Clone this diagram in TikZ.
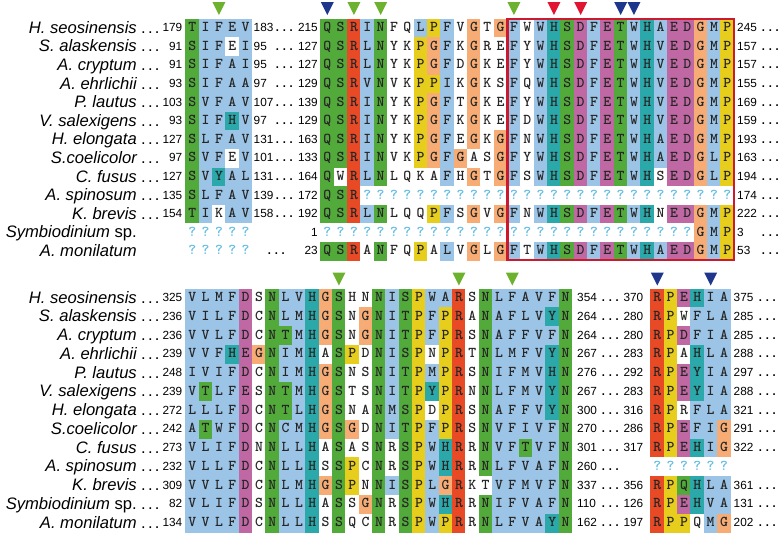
\documentclass[tikz,border=0pt]{standalone}
\usepackage{fontspec}
\setmainfont{Liberation Sans}
\definecolor{colb}{RGB}{155,196,230}
\definecolor{colg}{RGB}{82,170,58}
\definecolor{colr}{RGB}{233,74,38}
\definecolor{colm}{RGB}{192,104,163}
\definecolor{colc}{RGB}{42,168,170}
\definecolor{colo}{RGB}{246,172,116}
\definecolor{coly}{RGB}{232,206,28}
\definecolor{colw}{RGB}{255,255,255}
\definecolor{colq}{RGB}{255,255,255}
\colorlet{txtb}{black!85}
\colorlet{txtg}{black!85}
\colorlet{txtr}{black!85}
\colorlet{txtm}{black!85}
\colorlet{txtc}{black!85}
\colorlet{txto}{black!85}
\colorlet{txty}{black!85}
\colorlet{txtw}{black!85}
\definecolor{txtq}{RGB}{100,190,225}
\definecolor{boxred}{RGB}{205,25,45}
\definecolor{trig}{RGB}{108,178,46}
\definecolor{trib}{RGB}{30,55,140}
\definecolor{trir}{RGB}{225,20,50}
\newcommand\dd{.\kern2.2pt.\kern2.2pt.}
\newcommand\cells[4]{%
  \foreach \aa/\cc [count=\ii from 0] in {#4}{%
    \node[res=\cc] (#1-\ii) at ({#2+13.333*\ii},{#3}) {\aa};}}
\newcommand\qcells[5]{%
  \foreach \ii in {#4,...,#5}{%
    \node[res=q] (#1-\ii) at ({#2+13.333*\ii},{#3}) {?};}}
\newcommand\tri[3]{\fill[#1] ({#2-6.5},#3) -- ({#2+6.5},#3) -- (#2,{#3+13}) -- cycle;}
\tikzset{
  res/.style={fill=col#1, text=txt#1, minimum width=13.7pt, minimum height=19.1pt,
    inner sep=0pt, text height=6.8pt, text depth=0pt,
    font=\ttfamily\bfseries\fontsize{15}{15}\selectfont},
  nm/.style={anchor=base east, inner sep=0pt, font=\fontsize{16.6}{18}\selectfont\itshape},
  dt/.style={anchor=base west, inner sep=0pt, font=\fontsize{16.6}{18}\selectfont},
  num/.style={inner sep=0pt, font=\fontsize{11.8}{13}\selectfont},
  numr/.style={num, anchor=base east},
  numl/.style={num, anchor=base west}
}
\begin{document}
\begin{tikzpicture}[x=1pt,y=-1pt]
\useasboundingbox (0,0) rectangle (780,533);
\fill[white] (0,0) rectangle (780,533);

% ---------------- TOP BLOCK ----------------
% segment 1
\cells{ta0}{192.3}{28.3}{T/g,I/b,F/b,E/b,V/b}
\cells{ta1}{192.3}{46.9}{S/g,I/b,F/b,E/w,I/b}
\cells{ta2}{192.3}{65.5}{S/g,I/b,F/b,A/b,I/b}
\cells{ta3}{192.3}{84.1}{S/g,I/b,F/b,A/b,A/b}
\cells{ta4}{192.3}{102.7}{S/g,V/b,F/b,A/b,V/b}
\cells{ta5}{192.3}{121.3}{S/g,I/b,F/b,H/c,V/b}
\cells{ta6}{192.3}{139.9}{S/g,L/b,F/b,A/b,V/b}
\cells{ta7}{192.3}{158.5}{S/g,V/b,F/b,E/w,V/b}
\cells{ta8}{192.3}{177.1}{S/g,V/b,Y/c,A/b,L/b}
\cells{ta9}{192.3}{195.7}{S/g,L/b,F/b,A/b,V/b}
\cells{ta10}{192.3}{214.3}{T/g,I/b,K/w,A/b,V/b}
\qcells{ta11}{192.3}{232.9}{0}{4}
\qcells{ta12}{192.3}{251.5}{0}{4}
% segment 2
\cells{tb0}{327.3}{28.3}{Q/g,S/g,R/r,I/b,N/g,F/w,Q/w,L/b,P/y,F/b,V/w,G/o,T/w,G/o,F/b,W/w,W/b,H/c,S/g,D/m,F/b,E/m,T/g,W/b,H/c,A/b,E/m,D/m,G/o,M/b,P/y}
\cells{tb1}{327.3}{46.9}{Q/g,S/g,R/r,L/b,N/g,Y/w,K/w,P/y,G/o,F/b,K/w,G/o,R/w,E/w,F/b,Y/w,W/b,H/c,S/g,D/m,F/b,E/m,T/g,W/b,H/c,V/b,E/m,D/m,G/o,M/b,P/y}
\cells{tb2}{327.3}{65.5}{Q/g,S/g,R/r,L/b,N/g,Y/w,K/w,P/y,G/o,F/b,D/w,G/o,K/w,E/w,F/b,Y/w,W/b,H/c,S/g,D/m,F/b,E/m,T/g,W/b,H/c,V/b,E/m,D/m,G/o,M/b,P/y}
\cells{tb3}{327.3}{84.1}{Q/g,S/g,R/r,V/b,N/g,V/w,K/w,P/y,P/y,I/b,K/w,G/o,K/w,S/w,F/b,Q/w,W/b,H/c,S/g,D/m,F/b,E/m,T/g,W/b,H/c,V/b,E/m,D/m,G/o,M/b,P/y}
\cells{tb4}{327.3}{102.7}{Q/g,S/g,R/r,I/b,N/g,Y/w,K/w,P/y,G/o,F/b,T/w,G/o,K/w,E/w,F/b,Y/w,W/b,H/c,S/g,D/m,F/b,E/m,T/g,W/b,H/c,V/b,E/m,D/m,G/o,M/b,P/y}
\cells{tb5}{327.3}{121.3}{Q/g,S/g,R/r,I/b,N/g,Y/w,K/w,P/y,G/o,F/b,K/w,G/o,K/w,E/w,F/b,D/w,W/b,H/c,S/g,D/m,F/b,E/m,T/g,W/b,H/c,V/b,E/m,D/m,G/o,M/b,P/y}
\cells{tb6}{327.3}{139.9}{Q/g,S/g,R/r,I/b,N/g,Y/w,K/w,P/y,G/o,F/b,E/w,G/o,K/w,G/o,F/b,N/w,W/b,H/c,S/g,D/m,F/b,E/m,T/g,W/b,H/c,A/b,E/m,D/m,G/o,M/b,P/y}
\cells{tb7}{327.3}{158.5}{Q/g,S/g,R/r,I/b,N/g,V/w,K/w,P/y,G/o,F/b,G/o,A/w,S/w,G/o,F/b,Y/w,W/b,H/c,S/g,D/m,F/b,E/m,T/g,W/b,H/c,A/b,E/m,D/m,G/o,L/b,P/y}
\cells{tb8}{327.3}{177.1}{Q/g,W/w,R/r,L/b,N/g,L/w,Q/w,K/w,A/w,F/b,H/w,G/o,T/w,G/o,F/b,S/w,W/b,H/c,S/g,D/m,F/b,E/m,T/g,W/b,H/c,S/w,E/m,D/m,G/o,L/b,P/y}
\cells{tb9}{327.3}{195.7}{Q/g,S/g,R/r}
\qcells{tb9q}{327.3}{195.7}{3}{30}
\cells{tb10}{327.3}{214.3}{Q/g,S/g,R/r,L/b,N/g,L/w,Q/w,Q/w,P/y,F/b,S/w,G/o,V/w,G/o,F/b,N/w,W/b,H/c,S/g,D/m,F/b,E/m,T/g,W/b,H/c,N/w,E/m,D/m,G/o,M/b,P/y}
\qcells{tb11}{327.3}{232.9}{0}{27}
\cells{tb11e}{700.62}{232.9}{G/o,M/b,P/y}
\cells{tb12}{327.3}{251.5}{Q/g,S/g,R/r,A/w,N/g,F/w,Q/w,P/y,A/w,L/b,V/w,G/o,L/w,G/o,F/b,T/w,W/b,H/c,S/g,D/m,F/b,E/m,T/g,W/b,H/c,A/b,E/m,D/m,G/o,M/b,P/y}

\draw[line width=2.4pt, boxred] (507.3,19) rectangle (734,259.8);

% top labels
\foreach \nm/\sa/\ea/\sb/\eb [count=\r from 0] in {
  H. seosinensis/179/183/215/245,
  S. alaskensis/91/95/127/157,
  A. cryptum/91/95/127/157,
  A. ehrlichii/93/97/129/155,
  P. lautus/103/107/139/169,
  V. salexigens/93/97/129/159,
  H. elongata/127/131/163/193,
  S.coelicolor/97/101/133/163,
  C. fusus/127/131/164/194,
  A. spinosum/135/139/172/174,
  K. brevis/154/158/192/222}{
  \pgfmathsetmacro\yy{28.3+18.6*\r}
  \node[nm] (tn\r) at (137,\yy+5) {\nm};
  \node[dt] (td\r) at (141,\yy+5) {\dd};
  \node[numr] (ts\r) at (182.5,\yy+3.4) {\sa};
  \node[numl] (te\r) at (253.5,\yy+3.4) {\ea};
  \node[dt] (tm\r) at (275,\yy+3.4) {\dd};
  \node[numr] (tu\r) at (318,\yy+3.4) {\sb};
  \node[numl] (tv\r) at (737,\yy+3.4) {\eb};
  \node[dt] (tr\r) at (761,\yy+3.4) {\dd};
}
\node[nm] (tn11) at (137,237.9) {Symbiodinium {\upshape sp.}};
\node[numr] (tu11) at (318,236.3) {1};
\node[numl] (tv11) at (737,236.3) {3};
\node[dt] (tr11) at (761,236.3) {\dd};
\node[nm] (tn12) at (137,256.5) {A. monilatum};
\node[dt] (tm12) at (267,254.9) {\dd};
\node[numr] (tu12) at (318,254.9) {23};
\node[numl] (tv12) at (737,254.9) {53};
\node[dt] (tr12) at (761,254.9) {\dd};

% top triangles
\tri{trig}{218.97}{2}
\tri{trib}{327.3}{2}
\tri{trig}{353.97}{2}
\tri{trig}{380.63}{2}
\tri{trig}{513.97}{2}
\tri{trir}{553.97}{2}
\tri{trir}{580.63}{2}
\tri{trib}{620.63}{2}
\tri{trib}{633.97}{2}

% ---------------- BOTTOM BLOCK ----------------
\cells{ba0}{192.3}{298.2}{V/b,L/b,M/b,F/b,D/m,S/w,N/g,L/b,V/b,H/c,G/o,S/g,H/w,N/w,N/g,I/b,S/g,P/y,W/b,A/b,R/r,S/w,N/g,L/b,F/b,A/b,V/b,F/b,N/g}
\cells{ba1}{192.3}{316.95}{V/b,I/b,L/b,F/b,D/m,C/w,N/g,L/b,M/b,H/c,G/o,S/g,N/w,G/o,N/g,I/b,T/g,P/y,F/b,P/y,R/r,A/w,N/g,A/b,F/b,L/b,V/b,Y/c,N/g}
\cells{ba2}{192.3}{335.7}{V/b,V/b,L/b,F/b,D/m,C/w,N/g,T/g,M/b,H/c,G/o,S/g,N/w,G/o,N/g,I/b,T/g,P/y,F/b,P/y,R/r,S/w,N/g,A/b,F/b,F/b,V/b,F/b,N/g}
\cells{ba3}{192.3}{354.45}{V/b,V/b,F/b,H/c,E/m,G/o,N/g,I/b,M/b,H/c,A/w,S/g,P/y,D/w,N/g,I/b,S/g,P/y,N/w,P/y,R/r,T/w,N/g,L/b,M/b,F/b,V/b,Y/c,N/g}
\cells{ba4}{192.3}{373.2}{I/b,V/b,I/b,F/b,D/m,C/w,N/g,I/b,M/b,H/c,G/o,S/g,N/w,S/w,N/g,I/b,T/g,P/y,M/b,P/y,R/r,S/w,N/g,I/b,F/b,M/b,V/b,H/c,N/g}
\cells{ba5}{192.3}{391.95}{V/b,T/g,L/b,F/b,E/m,S/w,N/g,T/g,M/b,H/c,G/o,S/g,T/w,S/w,N/g,I/b,T/g,P/y,Y/c,P/y,R/r,N/w,N/g,L/b,F/b,M/b,V/b,Y/c,N/g}
\cells{ba6}{192.3}{410.7}{L/b,L/b,L/b,F/b,D/m,C/w,N/g,T/g,L/b,H/c,G/o,S/g,N/w,A/w,N/g,M/b,S/g,P/y,D/w,P/y,R/r,S/w,N/g,A/b,F/b,F/b,V/b,Y/c,N/g}
\cells{ba7}{192.3}{429.45}{A/b,T/g,W/b,F/b,D/m,C/w,N/g,C/b,M/b,H/c,G/o,S/g,G/o,D/w,N/g,I/b,T/g,P/y,F/b,P/y,R/r,S/w,N/g,V/b,F/b,I/b,V/b,F/b,N/g}
\cells{ba8}{192.3}{448.2}{V/b,L/b,I/b,F/b,D/m,N/w,N/g,L/b,L/b,H/c,A/w,S/g,A/w,S/w,N/g,R/w,S/g,P/y,W/b,H/c,R/r,R/w,N/g,V/b,F/b,T/g,V/b,F/b,N/g}
\cells{ba9}{192.3}{466.95}{V/b,L/b,L/b,F/b,D/m,C/w,N/g,L/b,L/b,H/c,S/w,S/g,P/y,C/w,N/g,R/w,S/g,P/y,W/b,H/c,R/r,R/w,N/g,L/b,F/b,V/b,A/b,F/b,N/g}
\cells{ba10}{192.3}{485.7}{V/b,V/b,L/b,F/b,D/m,C/w,N/g,L/b,M/b,H/c,G/o,S/g,P/y,N/w,N/g,I/b,S/g,P/y,L/b,G/o,R/r,K/w,T/w,V/b,F/b,M/b,V/b,F/b,N/g}
\cells{ba11}{192.3}{504.45}{V/b,L/b,I/b,F/b,D/m,S/w,N/g,L/b,L/b,H/c,A/w,S/g,S/w,G/o,N/g,R/w,S/g,P/y,W/b,H/c,R/r,R/w,N/g,I/b,F/b,V/b,A/b,F/b,N/g}
\cells{ba12}{192.3}{523.2}{V/b,V/b,L/b,F/b,D/m,C/w,N/g,L/b,L/b,H/c,S/w,S/g,Q/w,C/w,N/g,R/w,S/g,P/y,W/b,P/y,R/r,R/w,N/g,L/b,F/b,V/b,A/b,Y/c,N/g}

\cells{bb0}{657.3}{298.2}{R/r,P/y,E/m,H/c,I/b,A/b}
\cells{bb1}{657.3}{316.95}{R/r,P/y,W/w,F/b,L/b,A/b}
\cells{bb2}{657.3}{335.7}{R/r,P/y,D/m,F/b,I/b,A/b}
\cells{bb3}{657.3}{354.45}{R/r,P/y,A/w,H/c,L/b,A/b}
\cells{bb4}{657.3}{373.2}{R/r,P/y,E/m,Y/c,I/b,A/b}
\cells{bb5}{657.3}{391.95}{R/r,P/y,E/m,Y/c,I/b,A/b}
\cells{bb6}{657.3}{410.7}{R/r,P/y,R/w,F/b,L/b,A/b}
\cells{bb7}{657.3}{429.45}{R/r,P/y,E/m,F/b,I/b,G/o}
\cells{bb8}{657.3}{448.2}{R/r,P/y,E/m,H/c,I/b,G/o}
\qcells{bb9}{657.3}{466.95}{0}{5}
\cells{bb10}{657.3}{485.7}{R/r,P/y,Q/g,H/c,L/b,A/b}
\cells{bb11}{657.3}{504.45}{R/r,P/y,E/m,H/c,V/b,A/b}
\cells{bb12}{657.3}{523.2}{R/r,P/y,P/y,Q/w,M/b,G/o}

% bottom labels
\foreach \nm/\sa/\ea/\sb/\eb [count=\r from 0] in {
  H. seosinensis/325/354/370/375,
  S. alaskensis/236/264/280/285,
  A. cryptum/236/264/280/285,
  A. ehrlichii/239/267/283/288,
  P. lautus/248/276/292/297,
  V. salexigens/239/267/283/288,
  H. elongata/272/300/316/321,
  S.coelicolor/242/270/286/291,
  C. fusus/273/301/317/322,
  A. spinosum/232/260/0/0,
  K. brevis/309/337/356/361,
  Symbiodinium {\upshape sp.}/82/110/126/131,
  A. monilatum/134/162/197/202}{
  \pgfmathsetmacro\yy{298.2+18.75*\r}
  \node[nm] (bn\r) at (137,\yy+5) {\nm};
  \node[dt] (bd\r) at (141,\yy+5) {\dd};
  \node[numr] (bs\r) at (182.5,\yy+3.4) {\sa};
  \node[numl] (be\r) at (577,\yy+3.4) {\ea};
  \node[dt] (bm\r) at (601,\yy+3.4) {\dd};
  \ifnum\r=9\relax\else
  \node[numr] (bu\r) at (643.5,\yy+3.4) {\sb};
  \node[numl] (bv\r) at (733.5,\yy+3.4) {\eb};
  \node[dt] (br\r) at (758,\yy+3.4) {\dd};
  \fi
}

% bottom triangles
\tri{trig}{338.97}{272.5}
\tri{trig}{458.97}{272.5}
\tri{trig}{512.3}{272.5}
\tri{trib}{657.3}{272.5}
\tri{trib}{710.63}{272.5}
\end{tikzpicture}
\end{document}
